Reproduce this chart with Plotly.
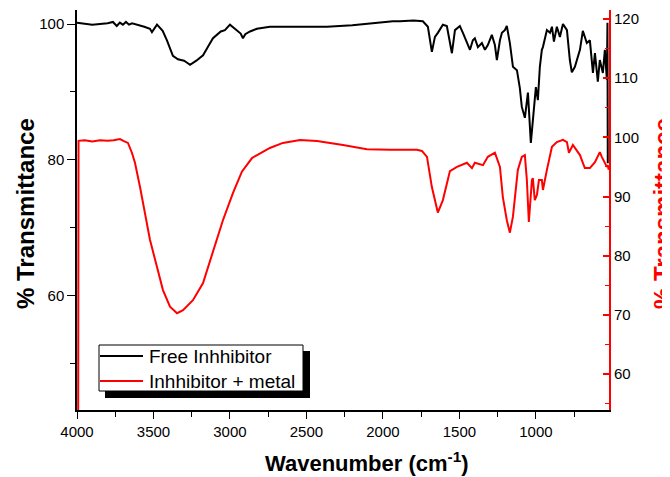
import plotly.graph_objects as go

# ---------------- data ----------------
free_wn = [4000, 3950, 3900, 3850, 3800, 3765, 3740, 3720, 3700, 3680, 3660, 3640, 3600,
           3560, 3523, 3510, 3477, 3440, 3412, 3373, 3340, 3327, 3300, 3280, 3261, 3220,
           3176, 3140, 3111, 3060, 3033, 3000, 2960, 2930, 2915, 2900, 2869, 2824, 2739,
           2600, 2500, 2366, 2200, 2050, 1935, 1889, 1800, 1739, 1725, 1706, 1680, 1660,
           1641, 1608, 1582, 1549, 1529, 1497, 1477, 1451, 1431, 1412, 1399, 1379, 1353,
           1333, 1314, 1288, 1268, 1255, 1235, 1222, 1203, 1190, 1170, 1150, 1124, 1105,
           1092, 1072, 1052, 1033, 1020, 1000, 987, 974, 961, 954, 928, 908, 895, 882, 863,
           843, 823, 797, 778, 765, 745, 712, 693, 667, 647, 627, 614, 595, 582, 562, 549,
           536, 532, 530]
free_t = [100.2, 100.0, 99.9, 100.0, 100.1, 100.3, 99.7, 100.2, 99.9, 100.3, 99.9, 100.1, 99.9,
          99.6, 99.3, 98.8, 99.9, 99.0, 97.6, 95.3, 94.8, 94.7, 94.6, 94.3, 94.0, 94.6,
          95.4, 96.8, 97.9, 98.9, 99.1, 99.9, 99.2, 98.6, 97.9, 98.5, 98.9, 99.3, 99.6,
          99.6, 99.5, 99.6, 99.8, 100.2, 100.4, 100.4, 100.5, 100.4, 100.1, 99.6, 95.9, 98.1,
          98.7, 99.9, 99.7, 95.7, 99.1, 99.7, 98.7, 97.2, 96.2, 97.6, 97.9, 96.6, 97.2,
          96.2, 96.9, 98.4, 96.9, 94.7, 97.6, 98.7, 99.1, 99.7, 97.2, 93.7, 93.2, 90.6,
          87.8, 86.2, 89.9, 82.5, 86.3, 90.7, 88.8, 93.7, 96.2, 96.6, 99.1, 98.7, 99.6, 97.4, 99.6,
          98.1, 100.0, 99.1, 94.7, 92.9, 93.7, 96.2, 99.0, 97.2, 97.6, 92.8, 95.7, 91.5, 94.7,
          92.8, 96.2, 91.8, 100.2, 79.5]

metal_wn = [3993, 3990, 3950, 3900, 3850, 3800, 3760, 3719, 3690, 3667, 3641, 3621, 3588,
            3556, 3523, 3477, 3438, 3392, 3346, 3307, 3242, 3176, 3111, 3046, 2980, 2922,
            2856, 2837, 2739, 2654, 2542, 2431, 2261, 2105, 1954, 1778, 1745, 1712, 1680,
            1641, 1608, 1562, 1516, 1451, 1418, 1399, 1346, 1314, 1268, 1235, 1216, 1190,
            1170, 1150, 1118, 1092, 1072, 1059, 1046, 1026, 1020, 1007, 993, 980, 961, 954,
            928, 895, 863, 823, 797, 784, 758, 745, 712, 680, 647, 614, 582, 569, 549, 536,
            530, 524]
metal_t = [40.0, 99.4, 99.5, 99.3, 99.5, 99.4, 99.5, 99.7, 99.3, 99.05, 97.4, 95.7, 91.6,
           87.2, 82.7, 78.1, 74.2, 71.4, 70.3, 70.8, 72.5, 75.4, 80.5, 86.0, 90.6, 94.2,
           96.5, 96.8, 98.2, 99.05, 99.56, 99.39, 98.7, 98.0, 97.9, 97.9, 97.7, 96.7, 91.6,
           87.3, 89.4, 94.3, 95.0, 95.7, 94.8, 95.7, 95.3, 96.7, 97.4, 95.0, 89.9, 86.0,
           83.9, 86.6, 94.5, 96.7, 97.0, 92.8, 85.7, 92.8, 93.1, 89.4, 90.3, 92.8, 92.8, 91.1,
           94.5, 98.4, 99.2, 99.56, 99.2, 97.4, 98.7, 98.2, 97.0, 94.8, 94.8, 95.8, 97.5, 96.7,
           95.7, 95.0, 95.3, 94.5]

series_names = ["Free Inhhibitor", "Inhhibitor + metal"]
series_colors = ["black", "red"]

x_ticks = [4000, 3500, 3000, 2500, 2000, 1500, 1000]
left_ticks = [60, 80, 100]
right_ticks = [60, 70, 80, 90, 100, 110, 120]

FONT = "Arial, Liberation Sans, sans-serif"

fig = go.Figure()
fig.add_trace(go.Scatter(x=free_wn, y=free_t, mode="lines", name=series_names[0],
                         line=dict(color=series_colors[0], width=2), yaxis="y",
                         showlegend=False))
fig.add_trace(go.Scatter(x=metal_wn, y=metal_t, mode="lines", name=series_names[1],
                         line=dict(color=series_colors[1], width=2), yaxis="y2",
                         showlegend=False))

# page body has an 8px margin: figure is drawn 8px in from the window's corner
fig.update_layout(
    width=662, height=469,
    margin=dict(l=69, r=61, t=2, b=67, autoexpand=False),
    paper_bgcolor="white", plot_bgcolor="white",
    font=dict(family=FONT, size=15, color="black"),
    showlegend=False,
    xaxis=dict(range=[4000, 522], tickvals=x_ticks, ticks="outside", ticklen=7,
               tickwidth=1.3, tickcolor="black", showline=True, linecolor="black",
               linewidth=1.5, showgrid=False, zeroline=False, layer="below traces",
               automargin=False, tickfont=dict(size=15, family=FONT),
               minor=dict(dtick=250, ticks="outside", ticklen=5, tickwidth=1.3,
                          tickcolor="black", showgrid=False)),
    yaxis=dict(range=[43.2, 102.06], tickvals=left_ticks, ticks="outside", ticklen=8,
               tickwidth=1.3, tickcolor="black", showline=True, linecolor="black",
               linewidth=1.5, showgrid=False, zeroline=False, layer="below traces",
               automargin=False, tickfont=dict(size=15, family=FONT),
               minor=dict(tickvals=[50, 70, 90], ticks="outside", ticklen=5, tickwidth=1.3,
                          tickcolor="black", showgrid=False)),
    yaxis2=dict(range=[53.95, 121.5], overlaying="y", side="right", tickvals=right_ticks,
                ticks="inside", ticklen=6, tickwidth=1.5, tickcolor="red", showline=True,
                linecolor="red", linewidth=2, showgrid=False, zeroline=False,
                automargin=False, tickfont=dict(size=15, family=FONT, color="black"),
                minor=dict(dtick=5, ticks="inside", ticklen=4, tickwidth=1.3,
                           tickcolor="red", showgrid=False)),
)

# helpers: window-pixel position -> paper fraction (plot area spans x 77..609, y 10..410)
PW, PH = 532.0, 400.0
def px(x):
    return (x - 77) / PW
def py(y):
    return (410 - y) / PH

# axis titles
fig.add_annotation(text="Wavenumber (cm<sup>-1</sup>)", xref="paper", yref="paper",
                   x=px(367), y=py(462), xanchor="center", yanchor="middle", showarrow=False,
                   font=dict(family=FONT, size=22, color="black", weight="bold"))
fig.add_annotation(text="% Transmittance", xref="paper", yref="paper", textangle=-90,
                   x=px(25), y=py(214), xanchor="center", yanchor="middle", showarrow=False,
                   font=dict(family=FONT, size=24, color="black", weight="bold"))
fig.add_annotation(text="% Transmittance", xref="paper", yref="paper", textangle=-90,
                   x=px(662), y=py(214), xanchor="center", yanchor="middle", showarrow=False,
                   font=dict(family=FONT, size=24, color="red", weight="bold"))

# legend (box with drop shadow)
fig.add_shape(type="rect", xref="paper", yref="paper", x0=px(105), x1=px(310),
              y0=py(398), y1=py(351), fillcolor="black", line=dict(width=0), layer="above")
fig.add_shape(type="rect", xref="paper", yref="paper", x0=px(99), x1=px(303),
              y0=py(391), y1=py(345), fillcolor="white", line=dict(color="black", width=1),
              layer="above")
for i, (nm, col) in enumerate(zip(series_names, series_colors)):
    yy = 356 + 25 * i
    fig.add_shape(type="line", xref="paper", yref="paper", x0=px(100), x1=px(143),
                  y0=py(yy), y1=py(yy), line=dict(color=col, width=2), layer="above")
    fig.add_annotation(text=nm, xref="paper", yref="paper", x=px(147), y=py(yy),
                       xanchor="left", yanchor="middle", showarrow=False,
                       font=dict(family=FONT, size=19, color="black"))

fig.write_html("out.html")
